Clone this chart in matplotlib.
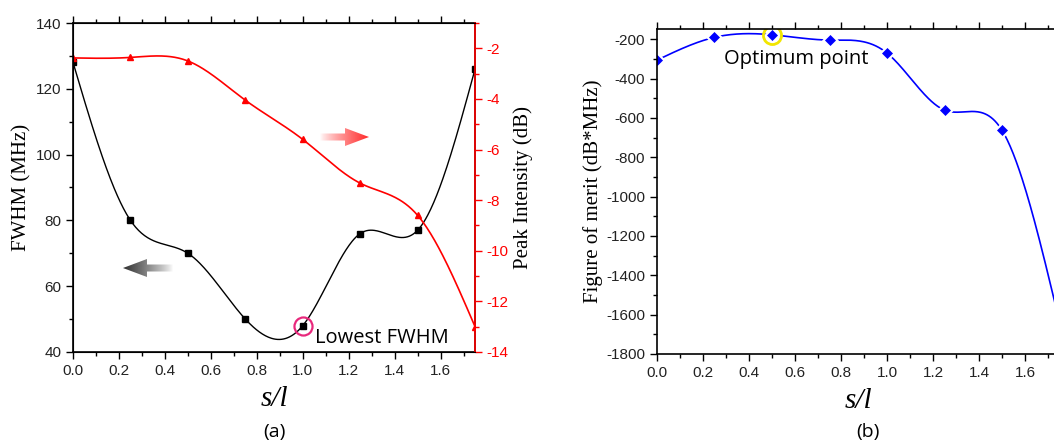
import numpy as np
import matplotlib
matplotlib.use("Agg")
import matplotlib.pyplot as plt
from matplotlib.patches import Polygon
from matplotlib.ticker import MultipleLocator

plt.rcParams["axes.unicode_minus"] = False
plt.rcParams["font.family"] = ["Liberation Sans", "DejaVu Sans"]

# data
s_l = [0.0, 0.25, 0.5, 0.75, 1.0, 1.25, 1.5, 1.75]
fwhm = [128, 80, 70, 50, 48, 76, 77, 126]
peak_db = [-2.38, -2.36, -2.5, -4.05, -5.6, -7.33, -8.6, -13.0]
fom = [-306, -190, -177, -204, -270, -560, -663, -1640]


def spline_curve(x, y, n=400):
    # natural cubic spline, only used to draw the smooth connecting line
    x = np.asarray(x, float)
    y = np.asarray(y, float)
    k = len(x)
    h = np.diff(x)
    A = np.zeros((k, k))
    b = np.zeros(k)
    A[0, 0] = A[-1, -1] = 1
    for i in range(1, k - 1):
        A[i, i - 1] = h[i - 1]
        A[i, i] = 2 * (h[i - 1] + h[i])
        A[i, i + 1] = h[i]
        b[i] = 6 * ((y[i + 1] - y[i]) / h[i] - (y[i] - y[i - 1]) / h[i - 1])
    M = np.linalg.solve(A, b)
    xs = np.linspace(x[0], x[-1], n)
    j = np.clip(np.searchsorted(x, xs) - 1, 0, k - 2)
    t0 = x[j + 1] - xs
    t1 = xs - x[j]
    hj = h[j]
    ys = (M[j] * t0**3 / (6 * hj) + M[j + 1] * t1**3 / (6 * hj)
          + (y[j] / hj - M[j] * hj / 6) * t0 + (y[j + 1] / hj - M[j + 1] * hj / 6) * t1)
    return xs, ys


serif = "Liberation Serif"
note_font = "Open Sans"
tick_col = "#222222"
tick_size = 11

fig = plt.figure(figsize=(10.54, 4.46), dpi=100)


def style_axis(ax, xmaj, ymaj):
    ax.xaxis.set_major_locator(MultipleLocator(xmaj))
    ax.xaxis.set_minor_locator(MultipleLocator(xmaj / 2))
    ax.yaxis.set_major_locator(MultipleLocator(ymaj))
    ax.yaxis.set_minor_locator(MultipleLocator(ymaj / 2))
    ax.tick_params(which="both", direction="out", top=True, labeltop=False,
                   labelsize=tick_size, labelcolor=tick_col, width=1)
    ax.tick_params(which="major", length=5)
    ax.tick_params(which="minor", length=3)
    for sp in ax.spines.values():
        sp.set_linewidth(1.2)


# ---- panel (a)
ax1 = fig.add_axes([0.0693, 0.2108, 0.3814, 0.7376])
xs, ys = spline_curve(s_l, fwhm)
ax1.plot(xs, ys, color="black", lw=1)
ax1.plot(s_l, fwhm, "s", color="black", ms=5)
ax1.set_xlim(0, 1.75)
ax1.set_ylim(40, 140)
style_axis(ax1, 0.2, 20)
ax1.set_ylabel("FWHM (MHz)", fontfamily=serif, fontsize=15, labelpad=3)
ax1.set_xlabel("s/l", fontfamily=serif, fontstyle="italic", fontsize=21, labelpad=6)
ax1.plot([1.0], [48], "o", ms=13, mfc="none", mec="#e8287c", mew=1.6)
ax1.text(1.055, 44.3, "Lowest FWHM", fontfamily=note_font, fontsize=14.5,
         va="center", ha="left")
ax1.text(0.5, -0.243, "(a)", transform=ax1.transAxes, fontfamily=note_font,
         fontsize=14, ha="center", va="center")

ax2 = ax1.twinx()
xs, ys = spline_curve(s_l, peak_db)
ax2.plot(xs, ys, color="red", lw=1.2)
ax2.plot(s_l, peak_db, "^", color="red", ms=5)
ax2.set_ylim(-14, -1)
ax2.yaxis.set_major_locator(MultipleLocator(2))
ax2.yaxis.set_minor_locator(MultipleLocator(1))
ax2.tick_params(axis="y", which="both", direction="out", colors="red",
                labelsize=tick_size, width=1)
ax2.tick_params(axis="y", which="major", length=5)
ax2.tick_params(axis="y", which="minor", length=3)
ax2.spines["right"].set_color("red")
ax2.spines["right"].set_linewidth(1.2)
ax2.set_ylabel("Peak Intensity (dB)", fontfamily=serif, fontsize=15, labelpad=3)

# ---- panel (b)
ax3 = fig.add_axes([0.6233, 0.2063, 0.382, 0.7276])
xs, ys = spline_curve(s_l, fom)
ax3.plot(xs, ys, color="blue", lw=1.2)
ax3.plot(s_l, fom, "D", color="blue", ms=6.5, mec="white", mew=2.5)
ax3.plot(s_l, fom, "D", color="blue", ms=5.5, mec="blue", mew=0.5)
ax3.set_xlim(0, 1.75)
ax3.set_ylim(-1800, -150)
style_axis(ax3, 0.2, 200)
ax3.spines["right"].set_visible(False)
ax3.set_ylabel("Figure of merit (dB*MHz)", fontfamily=serif, fontsize=15, labelpad=2)
ax3.set_xlabel("s/l", fontfamily=serif, fontstyle="italic", fontsize=21, labelpad=6)
ax3.plot([0.5], [-177], "o", ms=13, mfc="none", mec="#f2e600", mew=2)
ax3.text(0.29, -300, "Optimum point", fontfamily=note_font, fontsize=14.5,
         va="center", ha="left")
ax3.text(0.525, -0.24, "(b)", transform=ax3.transAxes, fontfamily=note_font,
         fontsize=14, ha="center", va="center")

# ---- gradient arrows drawn on a pixel overlay
ov = fig.add_axes([0, 0, 1, 1], zorder=5)
ov.set_xlim(0, 1054)
ov.set_ylim(446, 0)
ov.axis("off")


def grad_arrow(tail_x, tip_x, yc, color, shaft=7, head=18, head_len=24):
    d = np.sign(tip_x - tail_x)
    hb = tip_x - d * head_len
    pts = [(tail_x, yc - shaft / 2), (hb, yc - shaft / 2), (hb, yc - head / 2),
           (tip_x, yc), (hb, yc + head / 2), (hb, yc + shaft / 2), (tail_x, yc + shaft / 2)]
    poly = Polygon(pts, closed=True, facecolor="none", edgecolor="none")
    ov.add_patch(poly)
    rgb = matplotlib.colors.to_rgb(color)
    n = 200
    a = np.linspace(0, 1, n) ** 0.8
    img = np.zeros((2, n, 4))
    img[..., :3] = rgb
    img[..., 3] = a
    x0, x1 = min(tail_x, tip_x), max(tail_x, tip_x)
    if d < 0:
        img = img[:, ::-1]
    im = ov.imshow(img, extent=(x0, x1, yc + head / 2, yc - head / 2),
                   aspect="auto", interpolation="bilinear")
    im.set_clip_path(poly)


grad_arrow(320, 369, 137, "#ff2a2a")
grad_arrow(173, 123, 268, "#303030")

fig.savefig("out.png", dpi=100)
